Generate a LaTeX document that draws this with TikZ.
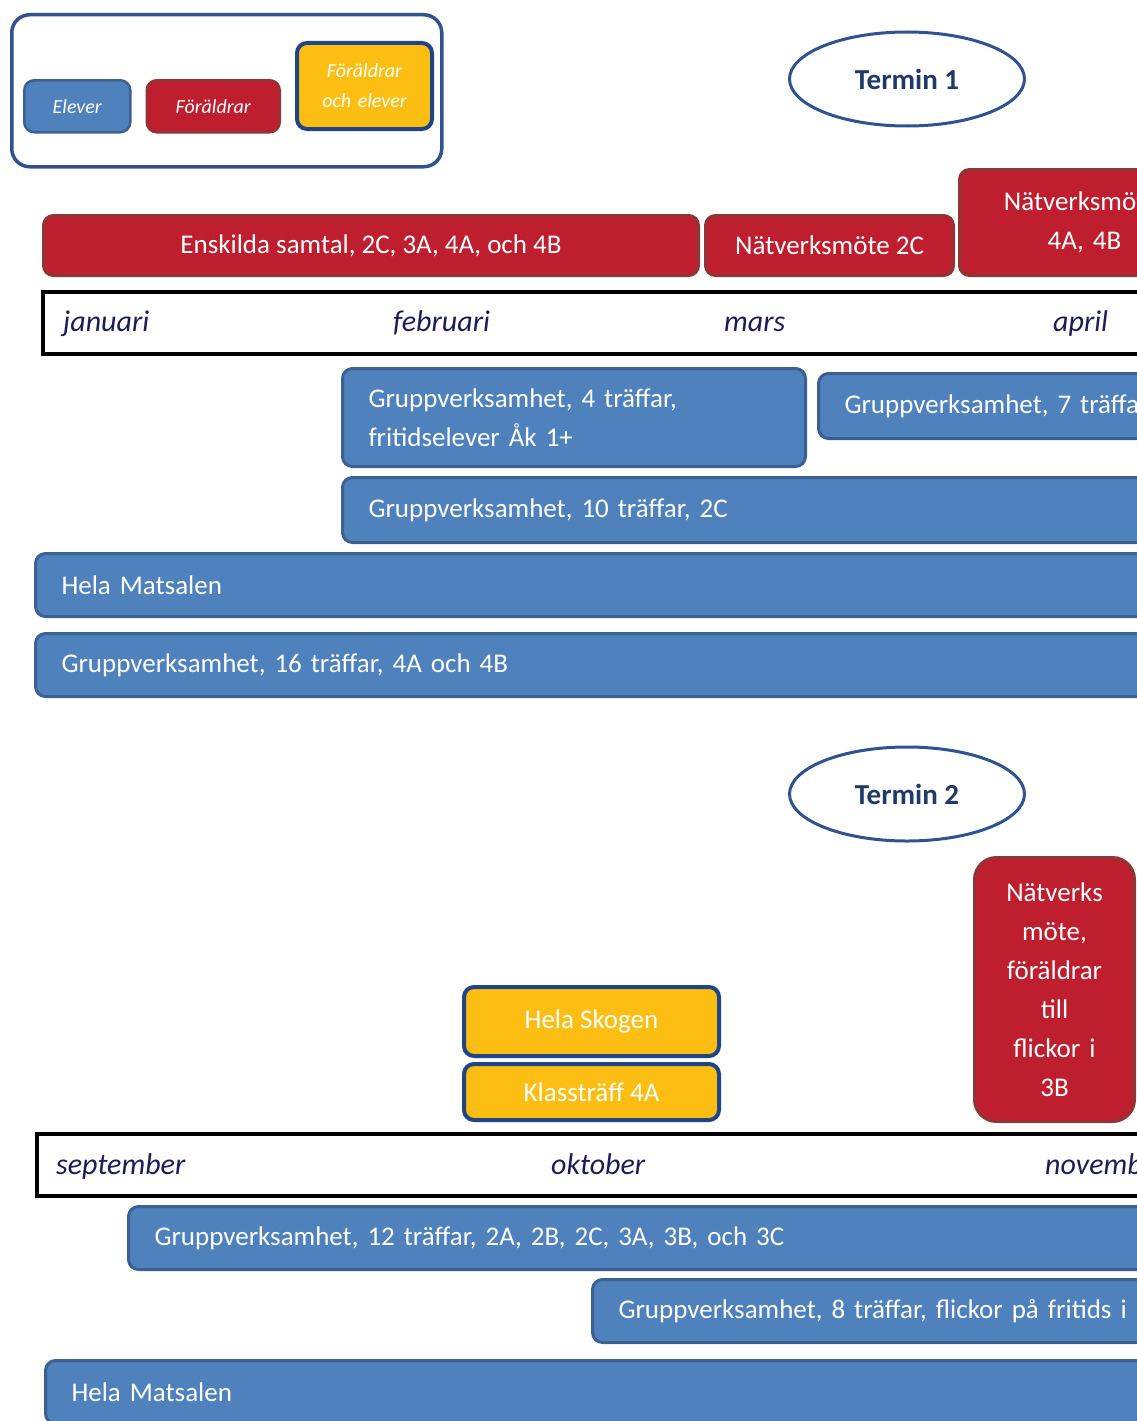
\documentclass[tikz,border=0pt]{standalone}
\usepackage{fontspec}
\setmainfont{Carlito}
\usetikzlibrary{positioning}
\usetikzlibrary{shapes.geometric}

\definecolor{elevblue}{HTML}{4F81BD}
\definecolor{elevline}{HTML}{3A6192}
\definecolor{foralderred}{HTML}{BE1E2D}
\definecolor{foralderline}{HTML}{8E3535}
\definecolor{badayellow}{HTML}{FDBE14}
\definecolor{badaline}{HTML}{1F4587}
\definecolor{terminline}{HTML}{2F5290}
\definecolor{termintext}{HTML}{1F3A68}
\definecolor{monthtext}{HTML}{1C1C58}

\begin{document}
\begin{tikzpicture}[x=1pt, y=-1pt,
    box/.style={rounded corners=10pt, line width=3pt, text=white, inner sep=0pt, font=\fontsize{27}{39}\selectfont},
    elev/.style={box, draw=elevline, fill=elevblue},
    foralder/.style={box, draw=foralderline, fill=foralderred},
    bada/.style={box, draw=badaline, fill=badayellow, line width=4pt},
    bar/.style={anchor=north west, align=left, inner xsep=26pt},
    month/.style={anchor=base west, inner sep=0pt, text=monthtext, font=\fontsize{30}{34}\selectfont\itshape},
    timeline/.style={draw=black, line width=4pt, anchor=north west, minimum height=62pt, minimum width=1200pt},
    termin/.style={ellipse, draw=terminline, line width=3pt, minimum width=235pt, minimum height=94pt, text=termintext, font=\fontsize{29}{34}\selectfont\bfseries}]
  \useasboundingbox (0,0) rectangle (1137,1421);
  \clip (0,0) rectangle (1137,1421);

  % legend
  \node[draw=terminline, line width=3.5pt, rounded corners=18pt, anchor=north west, minimum width=430pt, minimum height=152pt] (legend) at (10,13) {};
  \node[elev, anchor=north west, line width=2.5pt, minimum width=106pt, minimum height=52pt, font=\fontsize{20}{30}\selectfont\itshape] (elever) at (23,79) {Elever};
  \node[foralder, right=14pt of elever, line width=2.5pt, minimum width=133pt, minimum height=52pt, font=\fontsize{20}{30}\selectfont\itshape] (foraldrar) {Föräldrar};
  \node[bada, anchor=south west, minimum width=135pt, minimum height=86pt, text width=125pt, align=center, font=\fontsize{20}{30}\selectfont\itshape] (foraldrarelever) at (295,131) {Föräldrar\\och elever};

  % termin 1
  \node[termin] (termin1) at (907,79) {Termin 1};

  \node[foralder, anchor=north west, minimum width=655pt, minimum height=60pt] (enskilda) at (42,214) {Enskilda samtal, 2C, 3A, 4A, och 4B};
  \node[foralder, anchor=north west, minimum width=248pt, minimum height=60pt] (natverk2C) at (704,214) {Nätverksmöte 2C};
  \node[foralder, anchor=north west, minimum width=250pt, minimum height=106pt, text width=240pt, align=center] (natverk4A) at (958,168) {Nätverksmöte,\\4A, 4B};

  \node[timeline] (tid1) at (41,290) {};
  \node[month] (januari) at (63,331) {januari};
  \node[month] (februari) at (393,331) {februari};
  \node[month] (mars) at (724,331) {mars};
  \node[month] (april) at (1053,331) {april};

  \node[elev, bar, minimum height=98pt, text width=411pt] (grupp4) at (341,367) {Gruppverksamhet, 4 träffar,\\fritidselever Åk 1+};
  \node[elev, bar, minimum height=65pt, text width=348pt] (grupp7) at (817,372) {Gruppverksamhet, 7 träffar};
  \node[elev, bar, minimum height=65pt, text width=848pt] (grupp10) at (341,476) {Gruppverksamhet, 10 träffar, 2C};
  \node[elev, bar, minimum height=63pt, text width=1148pt] (matsalen1) at (34,552) {Hela Matsalen};
  \node[elev, bar, minimum height=63pt, text width=1148pt] (grupp16) at (34,632) {Gruppverksamhet, 16 träffar, 4A och 4B};

  % termin 2
  \node[termin] (termin2) at (907,794) {Termin 2};

  \node[foralder, anchor=north west, rounded corners=22pt, minimum width=160pt, minimum height=264pt, text width=150pt, align=center] (natverk3B) at (973,856) {Nätverks\\möte,\\föräldrar\\till\\flickor i\\3B};
  \node[bada, anchor=north west, minimum width=255pt, minimum height=69pt] (skogen) at (462,985) {Hela Skogen};
  \node[bada, below=4pt of skogen, minimum width=255pt, minimum height=56pt] (klasstraff) {Klassträff 4A};

  \node[timeline] (tid2) at (35,1132) {};
  \node[month] (september) at (56,1174) {september};
  \node[month] (oktober) at (551,1174) {oktober};
  \node[month] (november) at (1045,1174) {november};

  \node[elev, bar, minimum height=63pt, text width=1048pt] (grupp12) at (127,1205) {Gruppverksamhet, 12 träffar, 2A, 2B, 2C, 3A, 3B, och 3C};
  \node[elev, bar, minimum height=63pt, text width=548pt] (grupp8) at (591,1278) {Gruppverksamhet, 8 träffar, flickor på fritids i};
  \node[elev, bar, minimum height=63pt, text width=1148pt] (matsalen2) at (44,1359) {Hela Matsalen};
\end{tikzpicture}
\end{document}
